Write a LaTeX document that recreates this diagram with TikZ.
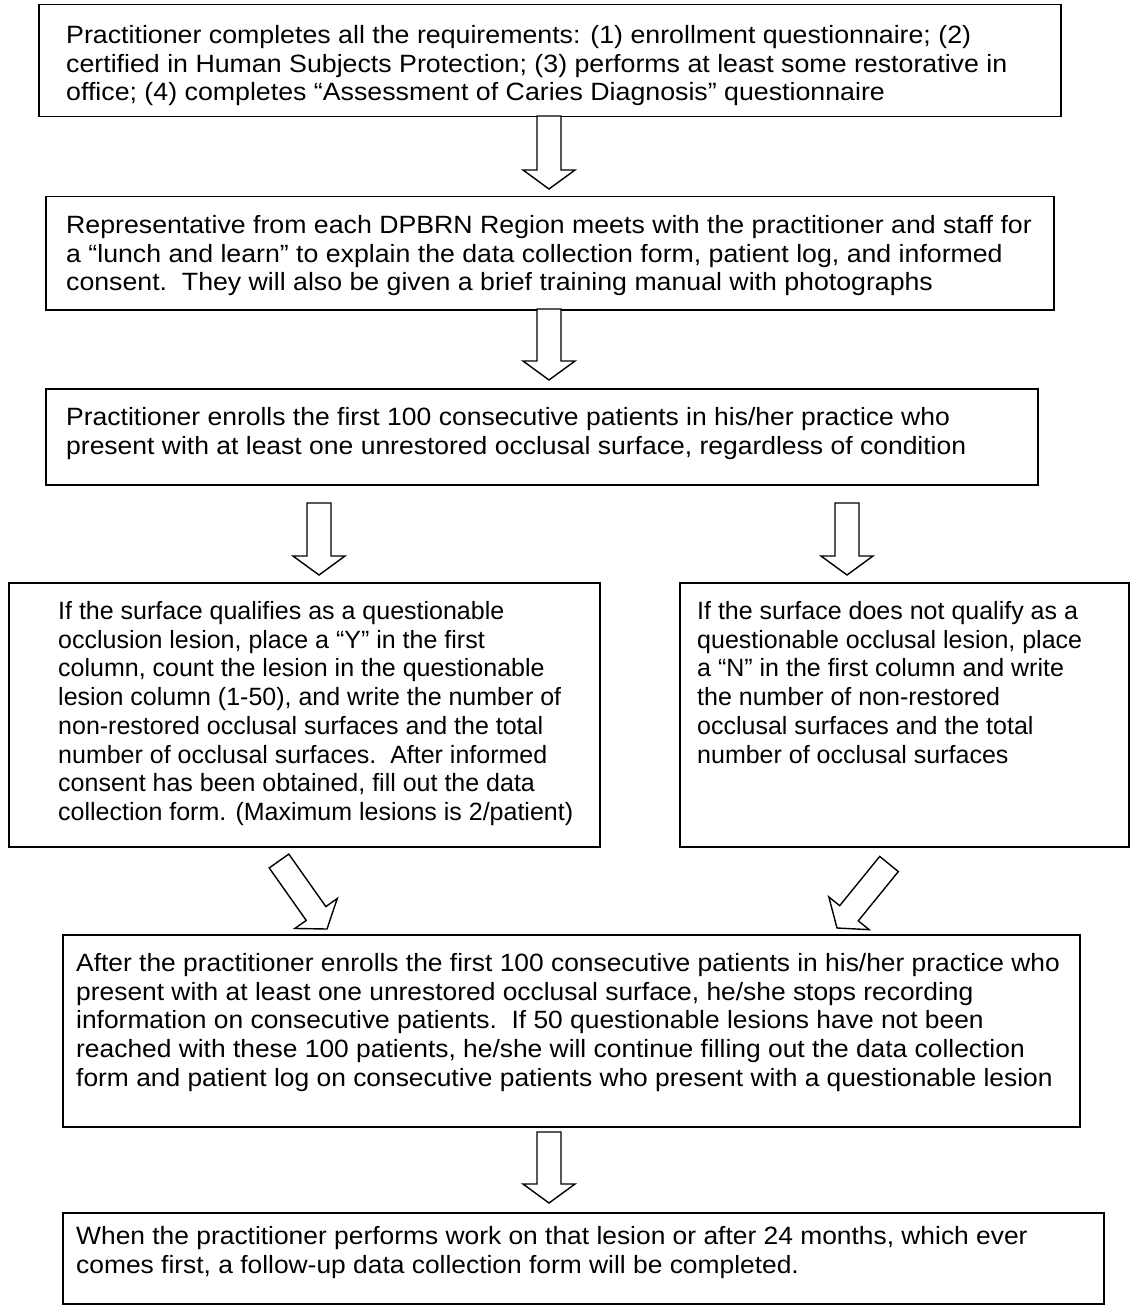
\documentclass[tikz,border=0pt]{standalone}
\usepackage{fontspec}
\setmainfont{Liberation Sans}
\newfontfamily\fstA[FakeStretch=1.07]{Liberation Sans}
\newfontfamily\fstB[FakeStretch=1.068]{Liberation Sans}
\newfontfamily\fstC[FakeStretch=1.06]{Liberation Sans}
\newfontfamily\fstD[FakeStretch=1.055]{Liberation Sans}
\usetikzlibrary{calc}
\newcommand\fsz{\fontsize{25}{28.75}\selectfont}
\newcommand\barrow[2]{%
  \coordinate (hb) at ($(#2)!19pt!(#1)$);
  \draw[barr] ($(#1)!12pt!-90:(#2)$) -- ($(hb)!12pt!-90:(#2)$) -- ($(hb)!26pt!-90:(#2)$) -- (#2)
    -- ($(hb)!26pt!90:(#2)$) -- ($(hb)!12pt!90:(#2)$) -- ($(#1)!12pt!90:(#2)$) -- cycle;}
\begin{document}
\begin{tikzpicture}[x=1pt,y=-1pt,
  box/.style={draw, line width=1.5pt, anchor=north west, inner sep=0pt},
  txt/.style={anchor=north west, align=left, inner sep=0pt},
  barr/.style={draw, line width=1.4pt, fill=white, line join=miter}]
\useasboundingbox (0,0) rectangle (1130,1305);
% boxes
\node[box, minimum width=1022pt, minimum height=112pt] (b1) at (38,4) {};
\node[box, minimum width=1008pt, minimum height=113pt] (b2) at (45,196) {};
\node[box, minimum width=992pt, minimum height=96pt] (b3) at (45,388) {};
\node[box, minimum width=591pt, minimum height=264pt] (b4l) at (8,582) {};
\node[box, minimum width=449pt, minimum height=264pt] (b4r) at (679,582) {};
\node[box, minimum width=1017pt, minimum height=192pt] (b5) at (62,934) {};
\node[box, minimum width=1041pt, minimum height=91pt] (b6) at (62,1212) {};
% texts
\node[txt, font=\fstA\fsz] (t1) at (66,25) {Practitioner completes all the requirements: (1) enrollment questionnaire; (2)\\
certified in Human Subjects Protection; (3) performs at least some restorative in\\
office; (4) completes “Assessment of Caries Diagnosis” questionnaire};
\node[txt, font=\fstB\fsz] (t2) at (66,215) {Representative from each DPBRN Region meets with the practitioner and staff for\\
a “lunch and learn” to explain the data collection form, patient log, and informed\\
consent.\ \ They will also be given a brief training manual with photographs};
\node[txt, font=\fstC\fsz] (t3) at (66,407) {Practitioner enrolls the first 100 consecutive patients in his/her practice who\\
present with at least one unrestored occlusal surface, regardless of condition};
\node[txt, font=\fsz] (t4l) at (58,601) {If the surface qualifies as a questionable\\
occlusion lesion, place a “Y” in the first\\
column, count the lesion in the questionable\\
lesion column (1-50), and write the number of\\
non-restored occlusal surfaces and the total\\
number of occlusal surfaces.\ \ After informed\\
consent has been obtained, fill out the data\\
collection form. (Maximum lesions is 2/patient)};
\node[txt, font=\fsz] (t4r) at (697,601) {If the surface does not qualify as a\\
questionable occlusal lesion, place\\
a “N” in the first column and write\\
the number of non-restored\\
occlusal surfaces and the total\\
number of occlusal surfaces};
\node[txt, font=\fstD\fsz] (t5) at (76,953) {After the practitioner enrolls the first 100 consecutive patients in his/her practice who\\
present with at least one unrestored occlusal surface, he/she stops recording\\
information on consecutive patients.\ \ If 50 questionable lesions have not been\\
reached with these 100 patients, he/she will continue filling out the data collection\\
form and patient log on consecutive patients who present with a questionable lesion};
\node[txt, font=\fstD\fsz] (t6) at (76,1226) {When the practitioner performs work on that lesion or after 24 months, which ever\\
comes first, a follow-up data collection form will be completed.};
% arrow end points
\coordinate (a1s) at (549,116);  \coordinate (a1e) at (549,189);
\coordinate (a2s) at (549,309);  \coordinate (a2e) at (549,380);
\coordinate (a3s) at (319,503);  \coordinate (a3e) at (319,575);
\coordinate (a4s) at (847,503);  \coordinate (a4e) at (847,575);
\coordinate (a5s) at (279,861);  \coordinate (a5e) at (327,929);
\coordinate (a6s) at (889,864);  \coordinate (a6e) at (837,928);
\coordinate (a7s) at (549,1132); \coordinate (a7e) at (549,1203);
\barrow{a1s}{a1e}
\barrow{a2s}{a2e}
\barrow{a3s}{a3e}
\barrow{a4s}{a4e}
\barrow{a5s}{a5e}
\barrow{a6s}{a6e}
\barrow{a7s}{a7e}
\end{tikzpicture}
\end{document}
